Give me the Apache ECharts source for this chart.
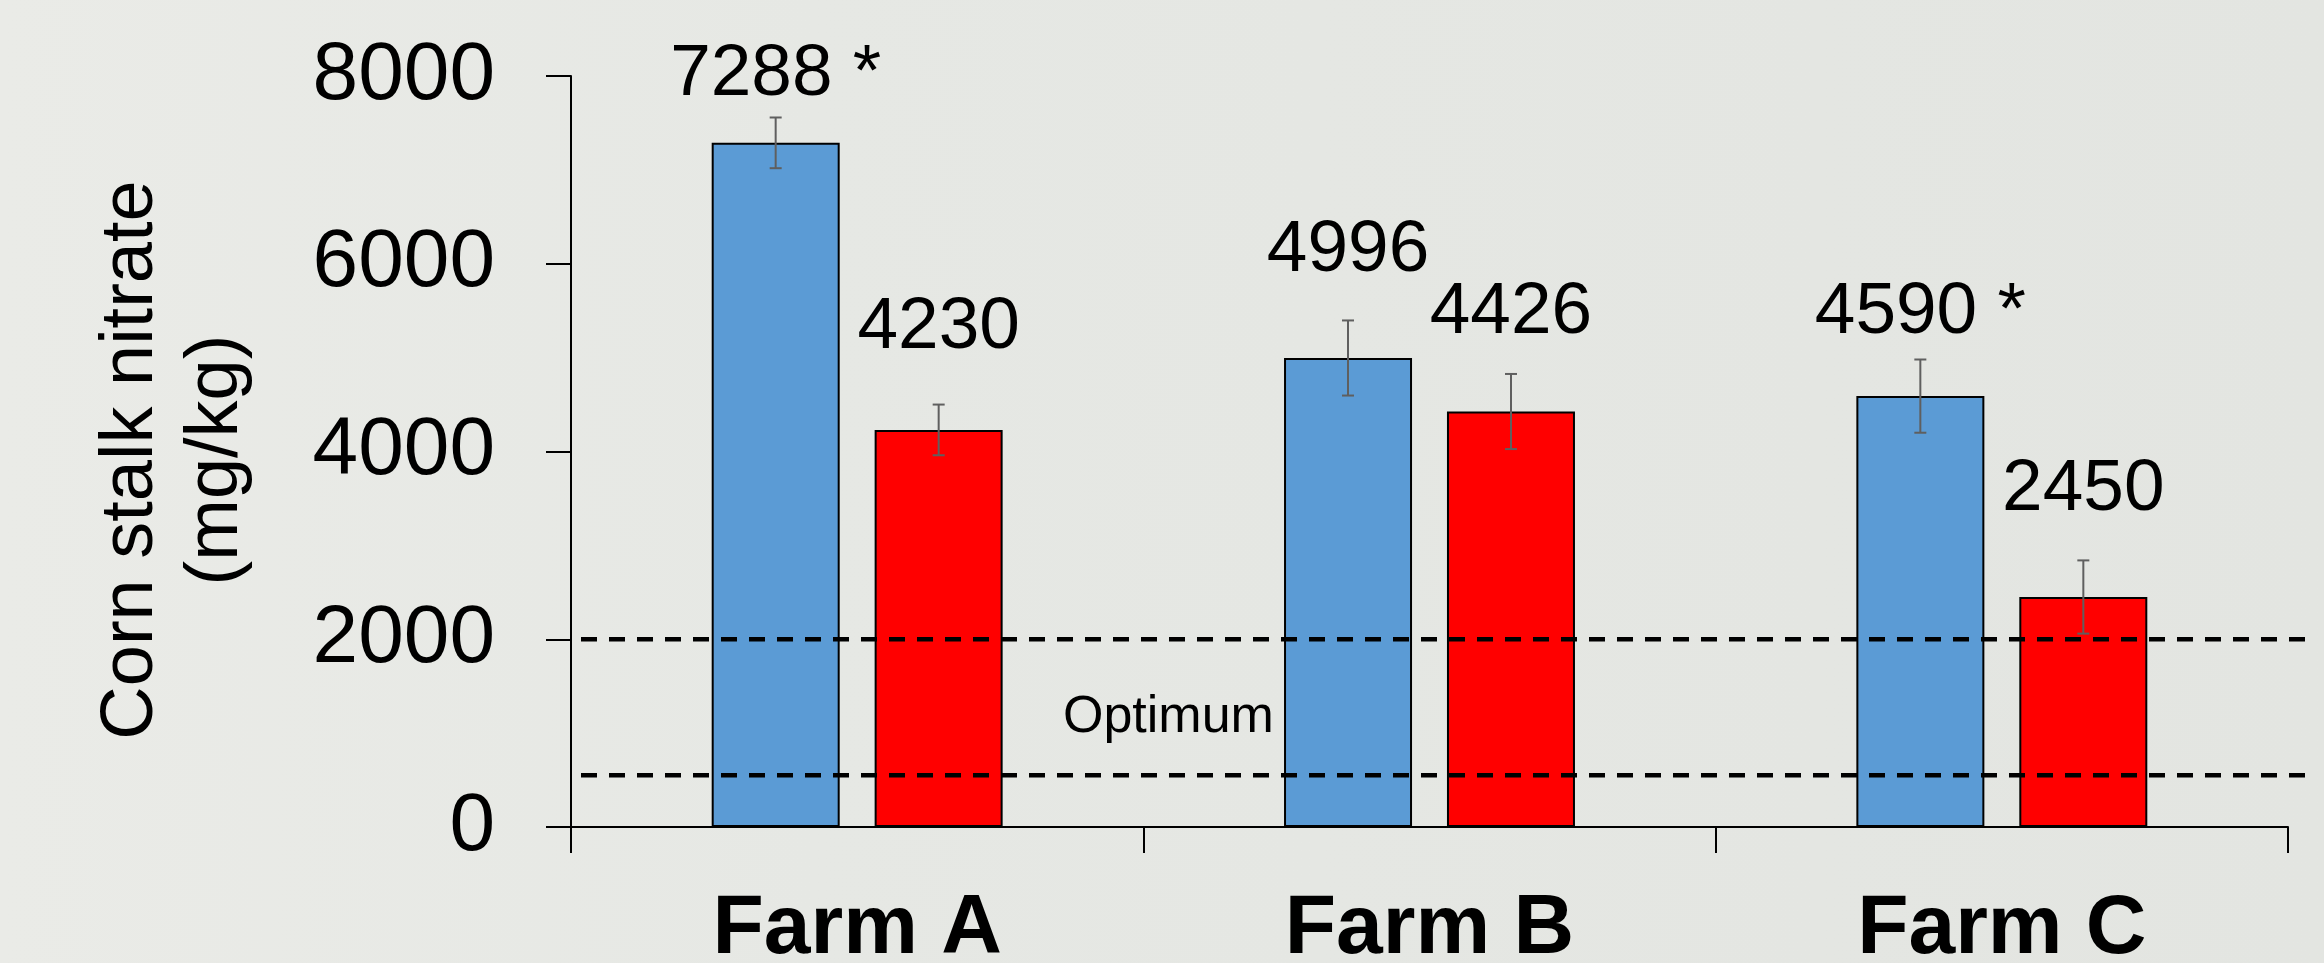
<!DOCTYPE html>
<html>
<head>
<meta charset="utf-8">
<title>Corn stalk nitrate by farm</title>
<script src="https://cdn.jsdelivr.net/npm/echarts@6/dist/echarts.min.js"></script>
<style>
  html, body { margin: 0; padding: 0; }
  body {
    width: 2324px; height: 963px; overflow: hidden;
    background: linear-gradient(90deg, #eaebe7 0%, #e6e8e4 35%, #e3e5e1 100%);
  }
  #chart { width: 2324px; height: 963px; }
</style>
</head>
<body>
<div id="chart"></div>
<script>
// ---- data ----
const categories = ['Farm A', 'Farm B', 'Farm C'];
const blueValues = [7288, 4996, 4590];
const redValues = [4230, 4426, 2450];
const blueErrors = [270, 400, 390];
const redErrors = [270, 400, 390];
const blueMarks = ['*', '', '*'];   // significance markers on the blue bars
const optimumRange = [550, 2000];   // dashed band limits, mg/kg
const yMin = 0, yMax = 8000, yStep = 2000;

// ---- layout ----
const FONT = '"Liberation Sans", Arial, Helvetica, sans-serif';
const BAR_WIDTH = 128;
const BAR_SPACE = 35;
const blueLabelLift = [31, 71, 47];
const redLabelLift = [66, 62, 71];

const chart = echarts.init(document.getElementById('chart'), null, { renderer: 'canvas' });

function barSeries(name, values, marks, lift, color) {
  return {
    name: name,
    type: 'bar',
    barWidth: BAR_WIDTH,
    barGap: (BAR_SPACE / BAR_WIDTH * 100).toFixed(1) + '%',
    itemStyle: { color: color, borderColor: '#000', borderWidth: 2 },
    label: {
      show: true,
      position: 'top',
      color: '#000',
      fontFamily: FONT,
      fontSize: 73,
      lineHeight: 73,
      formatter: function (p) {
        const m = marks ? marks[p.dataIndex] : '';
        return m ? p.value + ' ' + m : String(p.value);
      }
    },
    emphasis: { disabled: true },
    data: values.map(function (v, i) {
      return { value: v, label: { distance: lift[i] } };
    }),
    z: 3
  };
}

function errorSeries(values, errors, side) {
  const shift = side * (BAR_WIDTH + BAR_SPACE) / 2;
  return {
    type: 'custom',
    silent: true,
    z: 5,
    encode: { x: 0, y: [1, 2] },
    data: values.map(function (v, i) { return [i, v - errors[i], v + errors[i]]; }),
    renderItem: function (params, api) {
      const i = api.value(0);
      const lo = api.coord([i, api.value(1)]);
      const hi = api.coord([i, api.value(2)]);
      const x = lo[0] + shift;
      const cap = 6;
      const style = { stroke: '#5f5f5f', lineWidth: 2 };
      return {
        type: 'group',
        children: [
          { type: 'line', shape: { x1: x, y1: lo[1], x2: x, y2: hi[1] }, style: style },
          { type: 'line', shape: { x1: x - cap, y1: lo[1], x2: x + cap, y2: lo[1] }, style: style },
          { type: 'line', shape: { x1: x - cap, y1: hi[1], x2: x + cap, y2: hi[1] }, style: style }
        ]
      };
    }
  };
}

// dashed limits of the optimum band, running a little past the plot on the right
const bandSeries = {
  type: 'custom',
  silent: true,
  clip: false,
  z: 6,
  encode: { y: 0 },
  data: optimumRange.map(function (v) { return [v]; }),
  renderItem: function (params, api) {
    const cs = params.coordSys;
    const y = api.coord([0, api.value(0)])[1];
    return {
      type: 'line',
      shape: { x1: cs.x + 10, y1: y, x2: cs.x + cs.width + 17, y2: y },
      style: { stroke: '#000', lineWidth: 4.5, lineDash: [16, 12] }
    };
  }
};

chart.setOption({
  backgroundColor: 'transparent',
  animation: false,
  textStyle: { fontFamily: FONT },
  grid: {
    left: 571, right: 36, top: 76, bottom: 136,
    containLabel: false, outerBoundsMode: 'none'
  },
  xAxis: {
    type: 'category',
    data: categories,
    axisLine: { show: true, lineStyle: { color: '#000', width: 2 } },
    axisTick: { show: true, length: 26, lineStyle: { color: '#000', width: 2 } },
    axisLabel: {
      color: '#000', fontFamily: FONT, fontSize: 84, fontWeight: 'bold',
      lineHeight: 84, margin: 61
    },
    splitLine: { show: false }
  },
  yAxis: {
    type: 'value',
    min: yMin, max: yMax, interval: yStep,
    name: 'Corn stalk nitrate\n(mg/kg)',
    nameLocation: 'middle',
    nameRotate: 90,
    nameGap: 312,
    nameMoveOverlap: false,
    nameTextStyle: {
      color: '#000', fontFamily: FONT, fontSize: 74, lineHeight: 85,
      padding: [0, 17, 0, 0]
    },
    axisLine: { show: true, lineStyle: { color: '#000', width: 2 } },
    axisTick: { show: true, length: 25, lineStyle: { color: '#000', width: 2 } },
    axisLabel: {
      color: '#000', fontFamily: FONT, fontSize: 82, margin: 76,
      formatter: function (v) { return String(v); }
    },
    splitLine: { show: false }
  },
  graphic: [{
    type: 'text',
    left: 1063,
    top: 692,
    silent: true,
    style: { text: 'Optimum', fill: '#000', font: '52px ' + FONT }
  }],
  series: [
    barSeries('Series 1', blueValues, blueMarks, blueLabelLift, '#5b9bd5'),
    barSeries('Series 2', redValues, null, redLabelLift, '#ff0000'),
    errorSeries(blueValues, blueErrors, -1),
    errorSeries(redValues, redErrors, 1),
    bandSeries
  ]
});
</script>
</body>
</html>
